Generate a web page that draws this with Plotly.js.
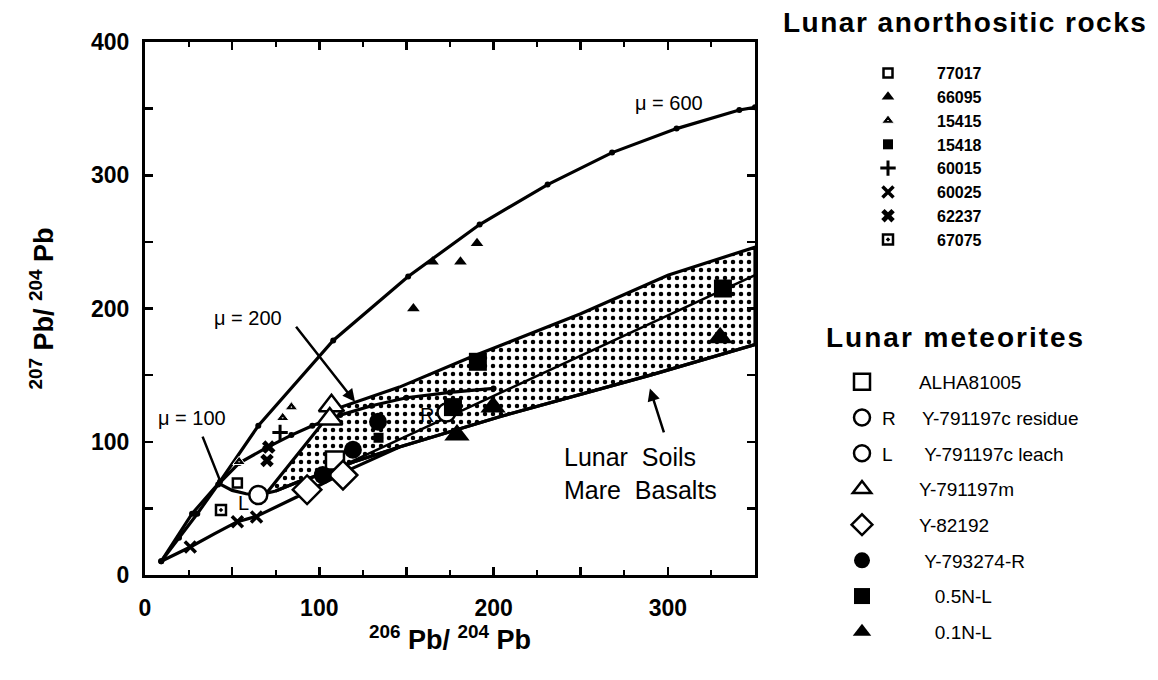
<!DOCTYPE html>
<html><head><meta charset="utf-8">
<script src="https://cdn.plot.ly/plotly-3.0.1.min.js"></script>
<style>html,body{margin:0;padding:0;background:#fff}</style>
</head><body><div id="chart" style="width:1158px;height:680px"></div>
<script>
// ---- growth curves / boundaries (207Pb/204Pb vs 206Pb/204Pb) ----
const mu600X = [9.3, 27, 43, 65, 108, 151, 192, 231, 268, 305, 341, 350];
const mu600Y = [10.3, 46, 70, 112, 176, 224, 263, 293, 317, 335, 349, 351];
const mu200X = [9.3, 19.5, 30, 42, 54, 69, 84, 96, 112, 130, 150, 175, 200];
const mu200Y = [10.3, 28, 46, 68, 84, 95, 105, 112, 120, 127, 133, 137, 140];
const mu100X = [42, 50, 58, 65, 75, 88, 102, 120, 146];
const mu100Y = [69, 63.5, 61, 60, 63, 70, 76, 85, 96];
const lowX = [9.3, 26, 40, 53, 64, 75, 87, 104, 119, 146, 204, 290, 350];
const lowY = [10.3, 21, 31, 40, 44, 51, 58.5, 70, 80, 96, 119, 150, 173];
const upperX = [70, 108, 146, 186, 250, 300, 350];
const upperY = [62, 124, 141, 163, 196, 225, 246];
const midX = [110, 350];
const midY = [80, 225];

// ---- Lunar anorthositic rocks ----
const a77017X = [53], a77017Y = [69];
const a66095X = [154, 165, 181, 190.5], a66095Y = [200, 235, 235, 249];
const a15415X = [54, 79, 84], a15415Y = [85, 118, 126];
const a15418X = [134], a15418Y = [103];
const a60015X = [77.5], a60015Y = [107];
const a60025X = [26, 53, 64], a60025Y = [21, 40, 43.5];
const a62237X = [71, 70], a62237Y = [96, 86];
const a67075X = [43.6], a67075Y = [48.8];

// ---- Lunar meteorites ----
const alhaX = [109], alhaY = [86];
const y791197cRX = [173], y791197cRY = [122];
const y791197cLX = [65], y791197cLY = [60];
const y791197mX = [107, 106], y791197mY = [127, 117];
const y82192X = [93, 113.6], y82192Y = [64, 75];
const y793274X = [133.7, 119.3, 102], y793274Y = [115, 94, 75];
const n05X = [176.7, 191, 331.6], n05Y = [126, 160, 215];
const n01X = [179, 199.7, 330], n01Y = [105, 126, 178];

const xTicks = [0, 50, 100, 150, 200, 250, 300, 350];
const xTickText = ['0', '', '100', '', '200', '', '300', ''];
const yTicks = [0, 50, 100, 150, 200, 250, 300, 350, 400];
const yTickText = ['0', '', '100', '', '200', '', '300', '', '400'];

const FONT = 'Liberation Sans, Arial, Helvetica, sans-serif';
const NB = '\u00A0';
const pad = n => NB.repeat(n);

// shaded region polygon, built from the boundary arrays
const shadeX = [], shadeY = [];
upperX.forEach((v, i) => { shadeX.push(v); shadeY.push(upperY[i]); });
for (let i = lowX.length - 1; i >= 0; i--) if (lowX[i] >= 146) { shadeX.push(lowX[i]); shadeY.push(lowY[i]); }
for (let i = mu100X.length - 1; i >= 0; i--) if (mu100X[i] > 70 && mu100X[i] < 146) { shadeX.push(mu100X[i]); shadeY.push(mu100Y[i]); }

const L = {color: 'black', width: 3.2};
const traces = [];
traces.push({x: shadeX, y: shadeY, type: 'scatter', mode: 'lines', fill: 'toself',
  fillcolor: 'white', fillpattern: {shape: '.', fgcolor: 'black', bgcolor: 'white', size: 8, solidity: 0.25},
  line: L, showlegend: false, hoverinfo: 'skip'});
traces.push({x: mu600X, y: mu600Y, mode: 'lines+markers', line: L, marker: {size: 6, color: 'black'}, showlegend: false});
traces.push({x: mu200X, y: mu200Y, mode: 'lines+markers', line: L, marker: {size: 6, color: 'black'}, showlegend: false});
traces.push({x: mu100X, y: mu100Y, mode: 'lines', line: L, showlegend: false});
traces.push({x: lowX, y: lowY, mode: 'lines', line: L, showlegend: false});
traces.push({x: midX, y: midY, mode: 'lines', line: {color: 'black', width: 2.5}, showlegend: false});

function pt(x, y, name, marker, legend, group) {
  return {x: x, y: y, mode: 'markers', type: 'scatter', name: name, marker: marker,
    legend: legend, legendgroup: group, showlegend: true, cliponaxis: false};
}
const blk = {color: 'black', width: 2.5};
// anorthositic rocks
traces.push(pt(a77017X, a77017Y, '77017', {symbol: 'square', size: 9, color: 'white', line: {color: 'black', width: 2.5}}, 'legend', 'a1'));
traces.push(pt(a66095X, a66095Y, '66095', {symbol: 'triangle-up', size: 11, color: 'black'}, 'legend', 'a2'));
traces.push(pt(a15415X, a15415Y, '15415', {symbol: 'triangle-up-dot', size: 11, color: 'black', line: {color: 'white', width: 1}}, 'legend', 'a3'));
traces.push(pt(a15418X, a15418Y, '15418', {symbol: 'square', size: 10, color: 'black'}, 'legend', 'a4'));
traces.push(pt(a60015X, a60015Y, '60015', {symbol: 'cross-thin', size: 11, color: 'black', line: {color: 'black', width: 3}}, 'legend', 'a5'));
traces.push(pt(a60025X, a60025Y, '60025', {symbol: 'x-thin', size: 11, color: 'black', line: {color: 'black', width: 3.5}}, 'legend', 'a6'));
traces.push(pt(a62237X, a62237Y, '62237', {symbol: 'x', size: 12, color: 'black'}, 'legend', 'a7'));
traces.push(pt(a67075X, a67075Y, '67075', {symbol: 'square-open-dot', size: 10, color: 'black', line: {color: 'black', width: 2.5}}, 'legend', 'a8'));
// meteorites
traces.push(pt(alhaX, alhaY, pad(7) + 'ALHA81005', {symbol: 'square', size: 18, color: 'white', line: blk}, 'legend2', 'm1'));
traces.push(pt(y791197cRX, y791197cRY, 'R' + pad(5) + 'Y-791197c residue', {symbol: 'circle', size: 18, color: 'white', line: blk}, 'legend2', 'm2'));
traces.push(pt(y791197cLX, y791197cLY, 'L' + pad(6) + 'Y-791197c leach', {symbol: 'circle', size: 18, color: 'white', line: blk}, 'legend2', 'm3'));
traces.push(pt(y791197mX, y791197mY, pad(7) + 'Y-791197m', {symbol: 'triangle-up', size: 22, color: 'white', line: blk}, 'legend2', 'm4'));
traces.push(pt(y82192X, y82192Y, pad(7) + 'Y-82192', {symbol: 'diamond', size: 22, color: 'white', line: blk}, 'legend2', 'm5'));
traces.push(pt(y793274X, y793274Y, pad(8) + 'Y-793274-R', {symbol: 'circle', size: 18, color: 'black'}, 'legend2', 'm6'));
traces.push(pt(n05X, n05Y, pad(10) + '0.5N-L', {symbol: 'square', size: 18, color: 'black'}, 'legend2', 'm7'));
traces.push(pt(n01X, n01Y, pad(10) + '0.1N-L', {symbol: 'triangle-up', size: 22, color: 'black'}, 'legend2', 'm8'));

// layout geometry (pixels of the 1158x680 page)
const ML = 145, MR = 403, MT = 42, MB = 105;
const PW = 1158 - ML - MR, PH = 680 - MT - MB;
const px = p => (p - ML) / PW;
const py = p => (680 - MB - p) / PH;

const annFont = {family: FONT, size: 20, color: 'black'};
const annotations = [
  {x: 300.6, y: 354, xref: 'x', yref: 'y', text: 'μ = 600', showarrow: false, font: annFont},
  {x: 59, y: 193, xref: 'x', yref: 'y', text: 'μ = 200', showarrow: false, font: annFont},
  {x: 27, y: 118, xref: 'x', yref: 'y', text: 'μ = 100', showarrow: false, font: annFont},
  {x: 161.8, y: 120, xref: 'x', yref: 'y', text: 'R', showarrow: false, font: annFont},
  {x: 56.8, y: 54, xref: 'x', yref: 'y', text: 'L', showarrow: false, font: annFont},
  {x: 239.5, y: 76, xref: 'x', yref: 'y', xanchor: 'left', align: 'left', text: 'Lunar  Soils<br>Mare  Basalts', showarrow: false, font: {family: FONT, size: 25, color: 'black'}},
  {x: 120.5, y: 130, ax: 86, ay: 187.5, xref: 'x', yref: 'y', axref: 'x', ayref: 'y', text: '', showarrow: true, arrowhead: 2, arrowsize: 1, arrowwidth: 2.5, arrowcolor: 'black', standoff: 0},
  {x: 43, y: 71, ax: 32.7, ay: 105, xref: 'x', yref: 'y', axref: 'x', ayref: 'y', text: '', showarrow: true, arrowhead: 0, arrowwidth: 2.5, arrowcolor: 'black', standoff: 0},
  {x: 289.7, y: 140, ax: 298, ay: 106, xref: 'x', yref: 'y', axref: 'x', ayref: 'y', text: '', showarrow: true, arrowhead: 2, arrowsize: 1, arrowwidth: 2.5, arrowcolor: 'black', standoff: 0},
  {x: px(965), y: py(22), xref: 'paper', yref: 'paper', xanchor: 'center', yanchor: 'middle', text: 'Lunar anorthositic rocks', showarrow: false, font: {family: FONT, size: 28, weight: 'bold', color: 'black'}},
  {x: px(955), y: py(337), xref: 'paper', yref: 'paper', xanchor: 'center', yanchor: 'middle', text: 'Lunar meteorites', showarrow: false, font: {family: FONT, size: 28, weight: 'bold', color: 'black'}}
];

const axisCommon = {
  showline: true, linewidth: 3, linecolor: 'black', mirror: 'ticks', ticks: 'inside',
  ticklen: 8, tickwidth: 2.5, tickcolor: 'black', showgrid: false, zeroline: false,
  tickfont: {family: FONT, size: 23, weight: 'bold', color: 'black'}, tickmode: 'array', fixedrange: true
};
const layout = {
  width: 1158, height: 680, margin: {l: ML, r: MR, t: MT, b: MB},
  paper_bgcolor: 'white', plot_bgcolor: 'white', showlegend: true,
  xaxis: Object.assign({}, axisCommon, {range: [0, 350], tickvals: xTicks, ticktext: xTickText, ticklabelstandoff: 10,
    minor: {tickmode: 'linear', tick0: 0, dtick: 25, ticks: 'inside', ticklen: 5, tickwidth: 2, tickcolor: 'black'},
    title: {text: '<sup>206</sup> Pb/ <sup>204</sup> Pb', font: {family: FONT, size: 27, weight: 'bold', color: 'black'}, standoff: 4}}),
  yaxis: Object.assign({}, axisCommon, {range: [0, 400], tickvals: yTicks, ticktext: yTickText, ticklabelstandoff: 8,
    title: {text: '<sup>207</sup> Pb/ <sup>204</sup> Pb', font: {family: FONT, size: 27, weight: 'bold', color: 'black'}, standoff: 30}}),
  legend: {x: px(839), xanchor: 'left', y: py(56), yanchor: 'top', bgcolor: 'rgba(0,0,0,0)', borderwidth: 0,
    font: {family: FONT, size: 16, weight: 'bold', color: 'black'}, itemwidth: 88, traceorder: 'grouped', tracegroupgap: 0, itemclick: false},
  legend2: {x: px(842), xanchor: 'left', y: py(363), yanchor: 'top', bgcolor: 'rgba(0,0,0,0)', borderwidth: 0,
    font: {family: FONT, size: 19, color: 'black'}, itemwidth: 30, traceorder: 'grouped', tracegroupgap: 8, itemclick: false},
  annotations: annotations
};
Plotly.newPlot('chart', traces, layout, {displayModeBar: false, staticPlot: true}).then(() => {
  // wider letter spacing on the two legend headings, as in the reference
  document.querySelectorAll('.annotation-text').forEach(t => {
    if (t.textContent === 'Lunar anorthositic rocks') t.style.letterSpacing = '1.5px';
    if (t.textContent === 'Lunar meteorites') t.style.letterSpacing = '2px';
  });
});
</script></body></html>
